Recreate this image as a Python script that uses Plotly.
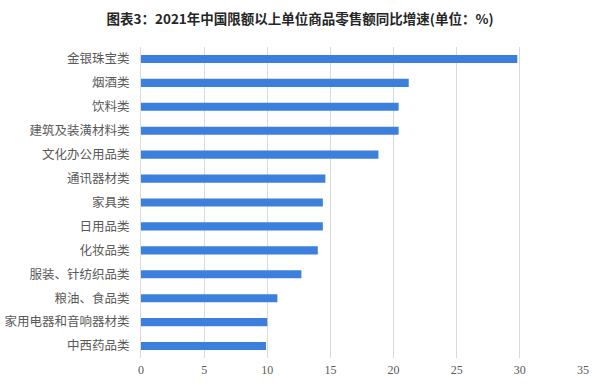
import plotly.graph_objects as go

categories = ["金银珠宝类", "烟酒类", "饮料类", "建筑及装潢材料类", "文化办公用品类", "通讯器材类",
              "家具类", "日用品类", "化妆品类", "服装、针纺织品类", "粮油、食品类",
              "家用电器和音响器材类", "中西药品类"]
values = [29.8, 21.2, 20.4, 20.4, 18.8, 14.6, 14.4, 14.4, 14.0, 12.7, 10.8, 10.0, 9.9]
x_ticks = [0, 5, 10, 15, 20, 25, 30, 35]
title = "图表3：2021年中国限额以上单位商品零售额同比增速(单位：%)"

fig = go.Figure(go.Bar(
    x=values, y=categories, orientation="h",
    marker=dict(color="#3d7fdc", line=dict(width=0)),
    width=0.34,
))
fig.update_layout(
    width=600, height=392,
    margin=dict(l=141, r=17, t=47, b=34, autoexpand=False),
    paper_bgcolor="white", plot_bgcolor="white",
    title=dict(text="<b>" + title + "</b>", x=0.5, xanchor="center", y=0.95, yanchor="middle",
               font=dict(family="Noto Sans CJK SC", size=13.5, color="#262626"), automargin=False),
    showlegend=False,
)
fig.update_xaxes(range=[0, 35], tickvals=x_ticks, ticktext=[str(t) for t in x_ticks],
                 showgrid=True, gridcolor="#d9d9d9", gridwidth=1, zeroline=False,
                 showline=False, ticks="", ticklabelstandoff=3, automargin=False,
                 tickfont=dict(family="Liberation Serif", size=12, color="#595959"))
fig.update_yaxes(categoryorder="array", categoryarray=categories, autorange="reversed",
                 showgrid=False, showline=True, linecolor="#d9d9d9", linewidth=1,
                 ticks="", ticklabelstandoff=8, automargin=False,
                 tickfont=dict(family="Noto Sans CJK SC", size=12.5, color="#595959"))
fig.write_html("out.html", config={"displayModeBar": False},
               post_script="document.body.style.margin='0';document.body.style.overflow='hidden';")
